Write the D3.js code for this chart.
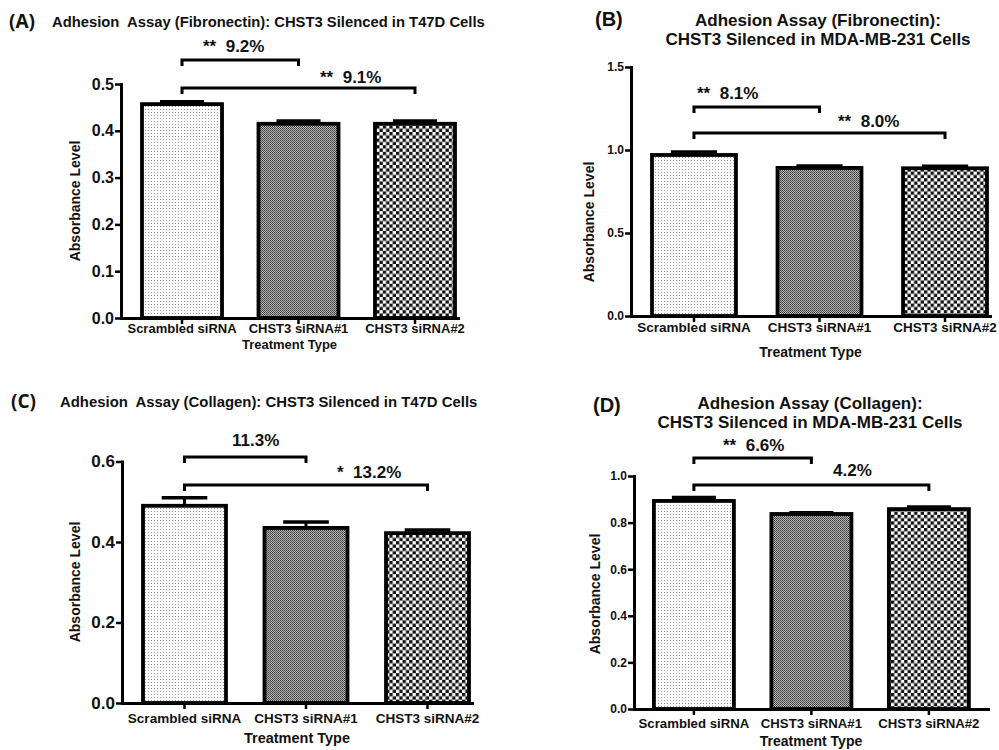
<!DOCTYPE html>
<html>
<head>
<meta charset="utf-8">
<script src="https://cdn.jsdelivr.net/npm/d3@7"></script>
<style>
  body { margin: 0; background: #fff; }
  text { font-family: "Liberation Sans", Arial, sans-serif; font-weight: bold; fill: #111; }
</style>
</head>
<body>
<div id="chart"></div>
<script>
// categories shared by all four panels
var categories = ["Scrambled siRNA", "CHST3 siRNA#1", "CHST3 siRNA#2"];

// bar heights (mean absorbance) and error (SEM, upward only)
var meanA = [0.457, 0.415, 0.415];
var errA  = [0.005, 0.006, 0.006];
var meanB = [0.970, 0.892, 0.890];
var errB  = [0.018, 0.012, 0.012];
var meanC = [0.490, 0.435, 0.422];
var errC  = [0.020, 0.015, 0.008];
var meanD = [0.893, 0.837, 0.858];
var errD  = [0.015, 0.005, 0.009];

// y tick values
var ticksA = [0, 0.1, 0.2, 0.3, 0.4, 0.5];
var ticksB = [0, 0.5, 1.0, 1.5];
var ticksC = [0, 0.2, 0.4, 0.6];
var ticksD = [0, 0.2, 0.4, 0.6, 0.8, 1.0];

// significance brackets: [from, to] and labels
var pairs = [[0, 1], [0, 2]];
var sigA = ["**  9.2%", "**  9.1%"];
var sigB = ["**  8.1%", "**  8.0%"];
var sigC = ["11.3%", "*  13.2%"];
var sigD = ["**  6.6%", "4.2%"];

var svg = d3.select("#chart")
    .append("svg")
    .attr("width", 999)
    .attr("height", 750);

svg.append("rect")
    .attr("width", 999)
    .attr("height", 750)
    .attr("fill", "#fff");

// fill patterns, one per treatment
var defs = svg.append("defs");

var p0 = defs.append("pattern").attr("id", "pat0")
    .attr("patternUnits", "userSpaceOnUse").attr("width", 3).attr("height", 3);
p0.append("rect").attr("width", 3).attr("height", 3).attr("fill", "#fafafa");
p0.append("rect").attr("x", 1).attr("y", 1).attr("width", 1).attr("height", 1).attr("fill", "#9a9a9a");

var p1 = defs.append("pattern").attr("id", "pat1")
    .attr("patternUnits", "userSpaceOnUse").attr("width", 2).attr("height", 2);
p1.append("rect").attr("width", 2).attr("height", 2).attr("fill", "#b5b5b5");
p1.append("rect").attr("width", 1).attr("height", 1).attr("fill", "#3a3a3a");
p1.append("rect").attr("x", 1).attr("y", 1).attr("width", 1).attr("height", 1).attr("fill", "#555");

var p2 = defs.append("pattern").attr("id", "pat2")
    .attr("patternUnits", "userSpaceOnUse").attr("width", 6.6).attr("height", 6.6);
p2.append("rect").attr("width", 6.6).attr("height", 6.6).attr("fill", "#fff");
p2.append("rect").attr("width", 3.3).attr("height", 3.3).attr("fill", "#111");
p2.append("rect").attr("x", 3.3).attr("y", 3.3).attr("width", 3.3).attr("height", 3.3).attr("fill", "#111");

var panels = [
  { tag: "(A)", tagX: 9, tagY: 28, tagFont: "'Open Sans', sans-serif", tagSize: 19,
    title: ["Adhesion  Assay (Fibronectin): CHST3 Silenced in T47D Cells"], titleX: 52, titleY: [27], titleSize: 14.8, titleAnchor: "start",
    mean: meanA, err: errA, ticks: ticksA, sig: sigA,
    x0: 121, x1: 458, y0: 318, y1: 84, padIn: 0.313, padOut: 0.103, align: 0.875,
    tickSize: 16, catSize: 13, catY: 10, xlabSize: 13, xlabY: 349, ylabX: 80, ylabY: 201, ylabSize: 14,
    brY: [60, 88], labX: [203, 320], labY: [52, 83], sigSize: 17 },
  { tag: "(B)", tagX: 595, tagY: 26, tagFont: "'Liberation Sans', Arial, sans-serif", tagSize: 20,
    title: ["Adhesion Assay (Fibronectin):", "CHST3 Silenced in MDA-MB-231 Cells"], titleX: 818, titleY: [26, 45], titleSize: 17, titleAnchor: "middle",
    mean: meanB, err: errB, ticks: ticksB, sig: sigB,
    x0: 631, x1: 990, y0: 316, y1: 67, padIn: 0.331, padOut: 0.0956, align: 0.875,
    tickSize: 12, catSize: 13.5, catY: 11, xlabSize: 14, xlabY: 357, ylabX: 594, ylabY: 222, ylabSize: 14,
    brY: [107, 133], labX: [697, 838], labY: [99, 127], sigSize: 17 },
  { tag: "(C)", tagX: 11, tagY: 408, tagFont: "'Open Sans', sans-serif", tagSize: 19,
    title: ["Adhesion  Assay (Collagen): CHST3 Silenced in T47D Cells"], titleX: 60, titleY: [407], titleSize: 14.9, titleAnchor: "start",
    mean: meanC, err: errC, ticks: ticksC, sig: sigC,
    x0: 122, x1: 472, y0: 703, y1: 461.5, padIn: 0.317, padOut: 0.0988, align: 0.875,
    tickSize: 17, catSize: 13.5, catY: 15, xlabSize: 14.5, xlabY: 743, ylabX: 80, ylabY: 582, ylabSize: 14,
    brY: [457, 485], labX: [232, 337], labY: [446, 478], sigSize: 17 },
  { tag: "(D)", tagX: 593, tagY: 412, tagFont: "'Liberation Sans', Arial, sans-serif", tagSize: 20,
    title: ["Adhesion Assay (Collagen):", "CHST3 Silenced in MDA-MB-231 Cells"], titleX: 810, titleY: [409, 428], titleSize: 17, titleAnchor: "middle",
    mean: meanD, err: errD, ticks: ticksD, sig: sigD,
    x0: 634, x1: 988, y0: 709, y1: 476, padIn: 0.319, padOut: 0.166, align: 0.51,
    tickSize: 12, catSize: 13.2, catY: 14, xlabSize: 14, xlabY: 746, ylabX: 600, ylabY: 594, ylabSize: 14,
    brY: [458, 485], labX: [723, 833], labY: [451, 476], sigSize: 17 }
];

var drawPanel = function(p) {
  var g = svg.append("g");

  // panel tag and title
  g.append("text")
      .attr("x", p.tagX)
      .attr("y", p.tagY)
      .style("font-family", p.tagFont)
      .style("font-size", p.tagSize + "px")
      .text(p.tag);

  p.title.forEach(function(line, i) {
    g.append("text")
        .attr("x", p.titleX)
        .attr("y", p.titleY[i])
        .attr("text-anchor", p.titleAnchor)
        .style("font-size", p.titleSize + "px")
        .style("white-space", "pre")
        .text(line);
  });

  // scales
  var x = d3.scaleBand()
      .domain(categories)
      .range([p.x0, p.x1])
      .paddingInner(p.padIn)
      .paddingOuter(p.padOut)
      .align(p.align);

  var y = d3.scaleLinear()
      .domain([0, d3.max(p.ticks)])
      .range([p.y0, p.y1]);

  // bars
  g.selectAll("rect.bar")
      .data(p.mean)
      .enter()
      .append("rect")
      .attr("class", "bar")
      .attr("x", function(d, i) { return x(categories[i]); })
      .attr("y", function(d) { return y(d); })
      .attr("width", x.bandwidth())
      .attr("height", function(d) { return p.y0 - y(d); })
      .attr("fill", function(d, i) { return "url(#pat" + i + ")"; })
      .attr("stroke", "#000")
      .attr("stroke-width", 3.8);

  // error bars (upper only)
  var capW = x.bandwidth() * 0.55;
  p.mean.forEach(function(d, i) {
    var cx = x(categories[i]) + x.bandwidth() / 2;
    var top = y(d + p.err[i]);
    g.append("line")
        .attr("x1", cx).attr("x2", cx)
        .attr("y1", y(d)).attr("y2", top)
        .attr("stroke", "#000").attr("stroke-width", 3);
    g.append("line")
        .attr("x1", cx - capW / 2).attr("x2", cx + capW / 2)
        .attr("y1", top).attr("y2", top)
        .attr("stroke", "#000").attr("stroke-width", 3.5);
  });

  // y axis
  var yAxis = g.append("g")
      .attr("transform", "translate(" + p.x0 + ",0)")
      .call(d3.axisLeft(y).tickValues(p.ticks).tickSize(6).tickSizeOuter(0).tickFormat(d3.format(".1f")));
  yAxis.select(".domain").attr("stroke-width", 3).attr("stroke-linecap", "square");
  yAxis.selectAll(".tick line").attr("stroke-width", 2.5);
  yAxis.selectAll(".tick text")
      .attr("x", -7)
      .style("font-size", p.tickSize + "px")
      .style("font-family", "'Liberation Sans', Arial, sans-serif")
      .style("font-weight", "bold")
      .attr("fill", "#111");

  // x axis
  var xAxis = g.append("g")
      .attr("transform", "translate(0," + p.y0 + ")")
      .call(d3.axisBottom(x).tickSize(6).tickSizeOuter(0));
  xAxis.select(".domain").attr("stroke-width", 3).attr("stroke-linecap", "square");
  xAxis.selectAll(".tick line").attr("stroke-width", 2.5);
  xAxis.selectAll(".tick text")
      .attr("y", p.catY)
      .attr("dy", "0.35em")
      .style("font-size", p.catSize + "px")
      .style("font-family", "'Liberation Sans', Arial, sans-serif")
      .style("font-weight", "bold")
      .attr("fill", "#111");

  // axis labels
  g.append("text")
      .attr("x", (p.x0 + p.x1) / 2)
      .attr("y", p.xlabY)
      .attr("text-anchor", "middle")
      .style("font-size", p.xlabSize + "px")
      .text("Treatment Type");

  g.append("text")
      .attr("transform", "translate(" + p.ylabX + "," + p.ylabY + ") rotate(-90)")
      .attr("text-anchor", "middle")
      .style("font-size", p.ylabSize + "px")
      .text("Absorbance Level");

  // significance brackets
  pairs.forEach(function(pr, k) {
    var xa = x(categories[pr[0]]) + x.bandwidth() / 2;
    var xb = x(categories[pr[1]]) + x.bandwidth() / 2;
    var yb = p.brY[k];
    g.append("path")
        .attr("d", "M" + xa + "," + (yb + 6) + "V" + yb + "H" + xb + "V" + (yb + 6))
        .attr("fill", "none")
        .attr("stroke", "#000")
        .attr("stroke-width", 3);
    g.append("text")
        .attr("x", p.labX[k])
        .attr("y", p.labY[k])
        .style("font-size", p.sigSize + "px")
        .style("white-space", "pre")
        .text(p.sig[k]);
  });
};

panels.forEach(drawPanel);
</script>
</body>
</html>
